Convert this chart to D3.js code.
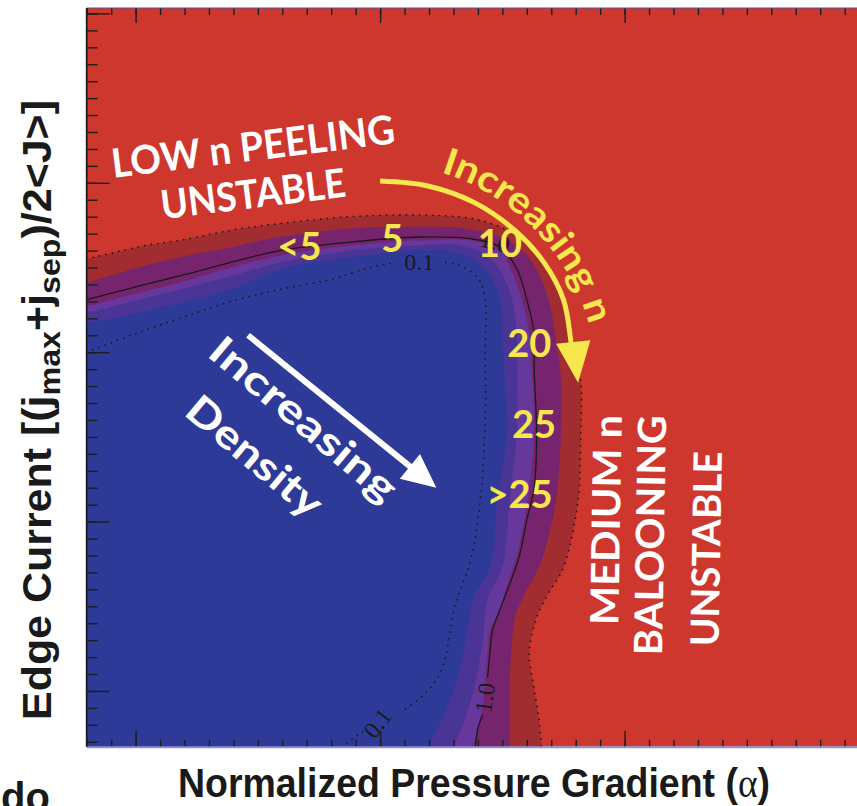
<!DOCTYPE html>
<html>
<head>
<meta charset="utf-8">
<script src="https://cdn.jsdelivr.net/npm/d3@7"></script>
<style>
  html, body { margin: 0; padding: 0; background: #fff; }
  svg { display: block; }
</style>
</head>
<body>
<svg id="chart" width="857" height="806"></svg>
<script>
// band edges, as [alpha, edge current]
const outerDotted = [[0.80,3.55],[1.04,3.63],[1.18,3.66],[1.39,3.72],[1.59,3.76],[1.88,3.80],[2.16,3.81],[2.37,3.79],[2.49,3.74],[2.59,3.66],[2.67,3.53],[2.74,3.37],[2.78,3.13],[2.82,2.84],[2.82,2.48],[2.81,2.13],[2.75,1.73],[2.69,1.58],[2.65,1.47],[2.62,1.33],[2.61,1.21],[2.63,1.01],[2.65,0.83],[2.66,0.67]];
const redMagenta = [[0.80,3.41],[1.04,3.51],[1.18,3.56],[1.39,3.62],[1.59,3.68],[1.88,3.73],[2.16,3.74],[2.35,3.73],[2.49,3.68],[2.59,3.59],[2.65,3.46],[2.69,3.31],[2.72,3.07],[2.74,2.84],[2.74,2.52],[2.72,2.13],[2.69,1.92],[2.65,1.73],[2.58,1.54],[2.55,1.42],[2.54,1.30],[2.53,1.05],[2.53,0.67]];
const magentaPurple = [[0.80,3.27],[1.04,3.36],[1.18,3.41],[1.39,3.50],[1.59,3.57],[1.88,3.63],[2.16,3.66],[2.37,3.66],[2.49,3.60],[2.54,3.47],[2.58,3.31],[2.61,3.11],[2.62,2.91],[2.63,2.52],[2.61,2.20],[2.59,2.01],[2.56,1.80],[2.52,1.63],[2.49,1.48],[2.45,1.36],[2.44,1.24],[2.43,1.06],[2.42,0.92],[2.40,0.78],[2.38,0.67]];
const purpleIndigo = [[0.80,3.23],[1.04,3.32],[1.18,3.37],[1.39,3.45],[1.59,3.53],[1.88,3.60],[2.16,3.63],[2.33,3.63],[2.44,3.57],[2.50,3.46],[2.54,3.31],[2.56,3.11],[2.56,2.84],[2.56,2.52],[2.53,2.13],[2.50,1.73],[2.44,1.54],[2.42,1.30],[2.39,1.05],[2.36,0.89],[2.33,0.77],[2.30,0.67]];
const indigoBlue = [[0.80,3.17],[1.04,3.24],[1.18,3.29],[1.39,3.37],[1.59,3.49],[1.88,3.56],[2.16,3.60],[2.31,3.59],[2.40,3.53],[2.46,3.43],[2.49,3.31],[2.50,3.11],[2.51,2.84],[2.52,2.52],[2.48,2.13],[2.45,1.73],[2.38,1.54],[2.35,1.30],[2.31,1.05],[2.27,0.89],[2.20,0.67]];

// contour lines (broken where their labels sit)
const solidTop = [[0.80,3.31],[1.04,3.40],[1.18,3.45],[1.39,3.53],[1.59,3.60],[1.88,3.65],[2.16,3.68],[2.37,3.67],[2.49,3.62],[2.56,3.49],[2.60,3.31],[2.63,3.11],[2.63,2.91],[2.64,2.52],[2.63,2.20],[2.60,2.01],[2.57,1.80],[2.53,1.63],[2.49,1.48],[2.46,1.36],[2.45,1.24],[2.44,1.08]];
const solidBottom = [[2.42,0.86],[2.40,0.78],[2.39,0.67]];
const innerA = [[0.80,3.00],[0.98,3.10],[1.18,3.20],[1.39,3.30],[1.59,3.37],[1.80,3.43],[1.96,3.50],[2.06,3.53]];
const innerB = [[2.27,3.53],[2.31,3.52],[2.40,3.44],[2.43,3.31],[2.43,3.01],[2.43,2.60],[2.41,2.13],[2.37,1.77],[2.31,1.52],[2.25,1.12],[2.18,0.98],[2.09,0.88]];
const innerC = [[1.93,0.76],[1.84,0.67]];

const contourText = ["0.1", "0.1", "1.0", "1.0"];
const contourAt = [[2.16,3.53],[1.99,0.81],[2.43,0.96],[2.47,3.65]];
const contourRot = [0, -52, -82, 15];

const nText = ["<5", "5", "10", "20", "25", ">25"];
const nAt = [[1.67,3.63],[2.05,3.68],[2.49,3.65],[2.61,3.06],[2.63,2.58],[2.57,2.17]];

// yellow "increasing n" arrow
const nArrow = [[2.00,4.01],[2.20,3.98],[2.39,3.88],[2.55,3.72],[2.67,3.53],[2.75,3.31],[2.78,3.07],[2.79,2.96]];
const nHead = [[2.72,3.05],[2.86,3.07],[2.81,2.82]];
const densityArrow = [[1.46,3.10],[2.23,2.20]];

const xDomain = [0.8, 4.0];
const yDomain = [0.671, 5.032];

const svg = d3.select("#chart");
const x = d3.scaleLinear().domain(xDomain).range([86.7, 869.1]);
const y = d3.scaleLinear().domain(yDomain).range([746.7, 8]);

const line = d3.line().x(d => x(d[0])).y(d => y(d[1])).curve(d3.curveCatmullRom.alpha(0.5));
const corner = [x(xDomain[0]) - 3, y(yDomain[0]) + 3];
const band = pts => line(pts) + `L${x(pts[pts.length - 1][0])},${corner[1]}L${corner[0]},${corner[1]}L${corner[0]},${y(pts[0][1])}Z`;

svg.append("clipPath").attr("id", "plot")
  .append("rect")
  .attr("x", x(xDomain[0])).attr("y", y(yDomain[1]))
  .attr("width", x(xDomain[1]) - x(xDomain[0]))
  .attr("height", y(yDomain[0]) - y(yDomain[1]));

const plot = svg.append("g").attr("clip-path", "url(#plot)");

plot.append("rect")
  .attr("x", x(xDomain[0])).attr("y", y(yDomain[1]))
  .attr("width", x(xDomain[1]) - x(xDomain[0]))
  .attr("height", y(yDomain[0]) - y(yDomain[1]))
  .attr("fill", "#CD372E");

const bands = [outerDotted, redMagenta, magentaPurple, purpleIndigo, indigoBlue];
const bandColors = ["#A12D31", "#77246E", "#67389B", "#4A3596", "#2E3A97"];
plot.selectAll("path.band").data(bands).enter().append("path")
  .attr("class", "band")
  .attr("d", band)
  .attr("fill", (d, i) => bandColors[i]);

// contour lines
plot.selectAll("path.dotted").data([outerDotted, innerA, innerB, innerC]).enter().append("path")
  .attr("class", "dotted")
  .attr("d", line)
  .attr("fill", "none")
  .attr("stroke", "#1a1a1a")
  .attr("stroke-width", 1.7)
  .attr("stroke-linecap", "round")
  .attr("stroke-dasharray", "0.1 6.5");

plot.selectAll("path.solid").data([solidTop, solidBottom]).enter().append("path")
  .attr("class", "solid")
  .attr("d", line)
  .attr("fill", "none")
  .attr("stroke", "#1a1a1a")
  .attr("stroke-width", 1.3);

plot.selectAll("text.clabel").data(contourText).enter().append("text")
  .attr("class", "clabel")
  .attr("transform", (d, i) => `translate(${x(contourAt[i][0])},${y(contourAt[i][1])}) rotate(${contourRot[i]})`)
  .attr("text-anchor", "middle")
  .attr("dominant-baseline", "central")
  .attr("font-family", "'Liberation Serif', 'DejaVu Serif', serif")
  .attr("font-size", 24)
  .attr("fill", "#1a1a1a")
  .text(d => d);

// ---- annotations ----
const ann = svg.append("g")
  .attr("font-family", "Lato, 'Open Sans', sans-serif")
  .attr("font-weight", "bold")
  .attr("text-anchor", "middle")
  .attr("dominant-baseline", "central");

function label(txt, at, rot, size, len, color) {
  ann.append("text")
    .attr("transform", `translate(${x(at[0])},${y(at[1])}) rotate(${rot})`)
    .attr("font-size", size)
    .attr("fill", color)
    .attr("textLength", len)
    .attr("lengthAdjust", "spacingAndGlyphs")
    .text(txt);
}

const white = "#FFFFFF", yellow = "#F6E74E";
label("LOW n PEELING", [1.48, 4.22], -7, 40, 285, white);
label("UNSTABLE", [1.48, 3.94], -7, 40, 186, white);
label("Increasing", [1.69, 2.61], 40, 40, 232, white);
label("Density", [1.49, 2.39], 40, 40, 165, white);
label("MEDIUM n", [2.92, 2.01], -89, 39, 210, white);
label("BALOONING", [3.10, 1.92], -89, 39, 240, white);
label("UNSTABLE", [3.33, 1.84], -89, 39, 195, white);

ann.selectAll("text.n").data(nText).enter().append("text")
  .attr("class", "n")
  .attr("x", (d, i) => x(nAt[i][0]))
  .attr("y", (d, i) => y(nAt[i][1]))
  .attr("font-size", 38)
  .attr("fill", yellow)
  .text(d => d);

// white density arrow
{
  const [t0, t1] = densityArrow.map(d => [x(d[0]), y(d[1])]);
  const dx = t1[0] - t0[0], dy = t1[1] - t0[1], L = Math.hypot(dx, dy);
  const ux = dx / L, uy = dy / L, hl = 34, hw = 16;
  const bx = t1[0] - ux * hl, by = t1[1] - uy * hl;
  svg.append("line")
    .attr("x1", t0[0]).attr("y1", t0[1]).attr("x2", bx + ux * 4).attr("y2", by + uy * 4)
    .attr("stroke", white).attr("stroke-width", 6);
  svg.append("path")
    .attr("d", `M${t1[0]},${t1[1]}L${bx - uy * hw},${by + ux * hw}L${bx + uy * hw},${by - ux * hw}Z`)
    .attr("fill", white);
}

// yellow increasing-n arrow and curved text
svg.append("path")
  .attr("d", line(nArrow))
  .attr("fill", "none")
  .attr("stroke", yellow)
  .attr("stroke-width", 5);
svg.append("path")
  .attr("d", "M" + nHead.map(d => [x(d[0]), y(d[1])].join(",")).join("L") + "Z")
  .attr("fill", yellow);

{
  const cx = x(1.98), cy = y(2.81), r = 222;
  const a0 = 12 * Math.PI / 180, a1 = 88 * Math.PI / 180;
  const p0 = [cx + r * Math.sin(a0), cy - r * Math.cos(a0)];
  const p1 = [cx + r * Math.sin(a1), cy - r * Math.cos(a1)];
  svg.append("path").attr("id", "narc")
    .attr("d", `M${p0}A${r},${r} 0 0 1 ${p1}`)
    .attr("fill", "none");
  svg.append("text")
    .attr("font-family", "Lato, 'Open Sans', sans-serif")
    .attr("font-weight", "bold")
    .attr("font-size", 37)
    .attr("fill", yellow)
    .append("textPath")
    .attr("href", "#narc")
    .attr("startOffset", 20)
    .attr("textLength", 222)
    .attr("lengthAdjust", "spacingAndGlyphs")
    .text("Increasing n");
}

// ---- ticks and frame ----
const tickG = svg.append("g");
function ticks(axis, tr, vals, size) {
  tickG.append("g").attr("transform", tr)
    .call(axis.tickValues(vals).tickSize(size).tickFormat("").tickSizeOuter(0))
    .call(g => g.select(".domain").remove())
    .call(g => g.selectAll("line").attr("stroke", "#1e1e1e").attr("stroke-width", 1.4));
}
const xMinor = x.ticks(30), xMajor = x.ticks(3);
const yMinor = y.ticks(40), yMajor = y.ticks(4);
ticks(d3.axisBottom(x), `translate(0,${y(yDomain[0])})`, xMinor, -7);
ticks(d3.axisBottom(x), `translate(0,${y(yDomain[0])})`, xMajor, -16);
ticks(d3.axisTop(x), `translate(0,${y(yDomain[1])})`, xMinor, -7);
ticks(d3.axisTop(x), `translate(0,${y(yDomain[1])})`, xMajor, -15);
ticks(d3.axisLeft(y), `translate(${x(xDomain[0])},0)`, yMinor, -11);
ticks(d3.axisLeft(y), `translate(${x(xDomain[0])},0)`, yMajor, -23);

svg.append("line")
  .attr("x1", x(xDomain[0])).attr("x2", x(xDomain[1]))
  .attr("y1", y(yDomain[1])).attr("y2", y(yDomain[1]))
  .attr("stroke", "#55558a").attr("stroke-width", 1.2);
svg.append("line")
  .attr("x1", x(xDomain[0])).attr("x2", x(xDomain[1]))
  .attr("y1", y(yDomain[0]) + 0.5).attr("y2", y(yDomain[0]) + 0.5)
  .attr("stroke", "#8f8fd0").attr("stroke-width", 2);
svg.append("line")
  .attr("x1", x(xDomain[0])).attr("x2", x(xDomain[0]))
  .attr("y1", y(yDomain[1])).attr("y2", y(yDomain[0]))
  .attr("stroke", "#1e1e1e").attr("stroke-width", 1.8);

// ---- axis titles ----
const xt = svg.append("text")
  .attr("x", 474).attr("y", 797)
  .attr("text-anchor", "middle")
  .attr("font-family", "'Liberation Sans', Arial, sans-serif")
  .attr("font-weight", "bold")
  .attr("font-size", 40)
  .attr("fill", "#1a1a1a")
  .attr("textLength", 592)
  .attr("lengthAdjust", "spacingAndGlyphs");
xt.append("tspan").text("Normalized Pressure Gradient (");
xt.append("tspan").attr("font-family", "'Liberation Serif', serif").attr("font-weight", "normal").text("α");
xt.append("tspan").text(")");

const yt = svg.append("text")
  .attr("transform", "translate(51,410) rotate(-90)")
  .attr("text-anchor", "middle")
  .attr("font-family", "'Liberation Sans', Arial, sans-serif")
  .attr("font-weight", "bold")
  .attr("font-size", 40)
  .attr("fill", "#1a1a1a")
  .attr("textLength", 620)
  .attr("lengthAdjust", "spacingAndGlyphs");
yt.append("tspan").text("Edge Current [(j");
yt.append("tspan").attr("dy", 9).attr("font-size", 30).text("max");
yt.append("tspan").attr("dy", -9).text("+j");
yt.append("tspan").attr("dy", 9).attr("font-size", 30).text("sep");
yt.append("tspan").attr("dy", -9).text(")/2<J>]");

// stray word cut off at the page edge
svg.append("text")
  .attr("x", 1).attr("y", 811)
  .attr("font-family", "'Liberation Sans', Arial, sans-serif")
  .attr("font-weight", "bold")
  .attr("font-size", 40)
  .attr("fill", "#1a1a1a")
  .text("do");
</script>
</body>
</html>
